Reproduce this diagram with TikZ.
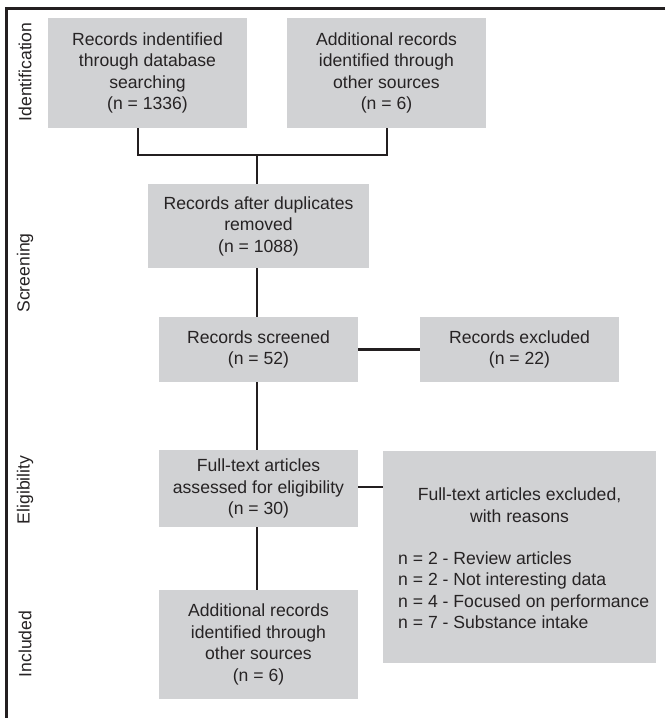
\documentclass[tikz,border=0pt]{standalone}
\usepackage{fontspec}
\setmainfont{Liberation Sans}
\definecolor{boxfill}{HTML}{D1D2D4}
\definecolor{linecol}{HTML}{231F20}
\definecolor{txtcol}{HTML}{262324}
\tikzset{
  box/.style={fill=boxfill, draw=none, inner sep=0pt, text=txtcol, align=center,
    font=\fontsize{17.6}{21.5}\selectfont},
  txt/.style={inner sep=0pt, text=txtcol, font=\fontsize{17.6}{21.5}\selectfont},
  side/.style={inner sep=0pt, text=txtcol, rotate=90, font=\fontsize{17.6}{21.5}\selectfont},
  conn/.style={draw=linecol, line width=2.6pt}
}
\begin{document}
\begin{tikzpicture}[x=1pt,y=-1pt]
\useasboundingbox (0,0) rectangle (665,718);
% frame
\draw[draw=linecol, line width=3pt] (665,8) -- (6.5,8) -- (6.5,718);
% side labels
\node[side] (lid) at (25,72) {Identification};
\node[side] (lsc) at (25,273) {Screening};
\node[side] (lel) at (25,490) {Eligibility};
\node[side] (lin) at (25,644) {Included};
% boxes
\node[box, minimum width=199pt, minimum height=110pt] (b1) at (147.5,73)
  {Records indentified\\through database\\searching\\(n = 1336)};
\node[box, minimum width=199pt, minimum height=110pt] (b2) at (386.5,73)
  {Additional records\\identified through\\other sources\\(n = 6)};
\node[box, minimum width=221pt, minimum height=84pt] (b3) at (258.5,226)
  {Records after duplicates\\removed\\(n = 1088)};
\node[box, minimum width=199pt, minimum height=65pt] (scr) at (258.5,349.5)
  {Records screened\\(n = 52)};
\node[box, minimum width=199pt, minimum height=65pt] (exc) at (519.5,349.5)
  {Records excluded\\(n = 22)};
\node[box, minimum width=199pt, minimum height=77pt] (elig) at (258.5,488.5)
  {Full-text articles\\assessed for eligibility\\(n = 30)};
\node[box, minimum width=199pt, minimum height=109pt] (inc) at (258.5,644.5)
  {Additional records\\identified through\\other sources\\(n = 6)};
\node[box, minimum width=273pt, minimum height=212pt] (reas) at (519.5,557) {};
\node[txt, align=center] (reash) at (519.5,505) {Full-text articles excluded,\\with reasons};
\node[txt, align=left, anchor=west] (reasl) at (398,590)
  {n = 2 - Review articles\\n = 2 - Not interesting data\\n = 4 - Focused on performance\\n = 7 - Substance intake};
% connectors
\coordinate (j) at (257,155);
\draw[conn] ([xshift=-9.5pt]b1.south) |- (j) -| ([xshift=0.5pt]b2.south);
\draw[conn] (j) -- (j |- b3.north);
\draw[conn] (j |- b3.south) -- (j |- scr.north);
\draw[conn] (scr.east) -- (exc.west);
\draw[conn] (j |- scr.south) -- (j |- elig.north);
\draw[conn] ([yshift=1.5pt]elig.east) -- ([yshift=1.5pt]elig.east -| reas.west);
\draw[conn] (j |- elig.south) -- (j |- inc.north);
\end{tikzpicture}
\end{document}
